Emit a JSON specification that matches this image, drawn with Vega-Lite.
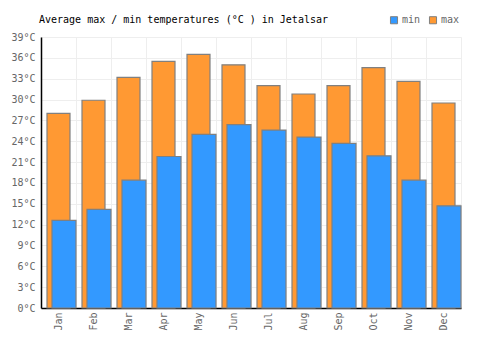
{
  "$schema": "https://vega.github.io/schema/vega-lite/v6.json",
  "autosize": "none",
  "width": 420,
  "height": 271,
  "padding": {"left": 41, "top": 37, "right": 39, "bottom": 42},
  "background": "white",
  "title": {
    "text": "Average max / min temperatures (°C ) in Jetalsar",
    "anchor": "start",
    "frame": "group",
    "font": "DejaVu Sans Mono",
    "fontSize": 10,
    "fontWeight": "normal",
    "color": "#000000",
    "dx": -2,
    "offset": -10
  },
  "config": {
    "view": {"stroke": "#eeeeee"},
    "axis": {"labelFont": "DejaVu Sans Mono", "labelFontSize": 10, "labelColor": "#666666"},
    "legend": {"labelFont": "DejaVu Sans Mono", "labelFontSize": 10, "labelColor": "#666666"}
  },
  "data": {
    "values": [
      {"month": "Jan", "max": 28.0, "min": 12.6},
      {"month": "Feb", "max": 29.9, "min": 14.2},
      {"month": "Mar", "max": 33.2, "min": 18.4},
      {"month": "Apr", "max": 35.5, "min": 21.8},
      {"month": "May", "max": 36.5, "min": 25.0},
      {"month": "Jun", "max": 35.0, "min": 26.4},
      {"month": "Jul", "max": 32.0, "min": 25.6},
      {"month": "Aug", "max": 30.8, "min": 24.6},
      {"month": "Sep", "max": 32.0, "min": 23.7},
      {"month": "Oct", "max": 34.6, "min": 21.9},
      {"month": "Nov", "max": 32.6, "min": 18.4},
      {"month": "Dec", "max": 29.5, "min": 14.7}
    ]
  },
  "encoding": {
    "x": {
      "field": "month",
      "type": "nominal",
      "sort": null,
      "scale": {"paddingInner": 0, "paddingOuter": 0},
      "axis": {
        "title": null,
        "bandPosition": 0,
        "labelAngle": -90,
        "labelAlign": "right",
        "labelBaseline": "middle",
        "labelPadding": 4,
        "labelOverlap": false,
        "ticks": false,
        "grid": true,
        "gridColor": "#eeeeee",
        "domainColor": "#000000",
        "domainWidth": 1.5
      }
    }
  },
  "layer": [
    {
      "mark": {"type": "bar", "width": 23, "stroke": "#808080", "strokeWidth": 1.2},
      "encoding": {
        "y": {
          "field": "max",
          "type": "quantitative",
          "scale": {"domain": [0, 39], "nice": false},
          "axis": {
            "title": null,
            "values": [0, 3, 6, 9, 12, 15, 18, 21, 24, 27, 30, 33, 36, 39],
            "labelExpr": "datum.value + '°C'",
            "labelOverlap": false,
            "ticks": false,
            "labelPadding": 6,
            "gridColor": "#eeeeee",
            "domainColor": "#000000",
            "domainWidth": 1.5
          }
        },
        "color": {
          "datum": "max",
          "scale": {"domain": ["min", "max"], "range": ["#3399ff", "#ff9933"]},
          "legend": {
            "title": null,
            "orient": "none",
            "legendX": 348,
            "legendY": -22,
            "direction": "horizontal",
            "symbolType": "square",
            "symbolSize": 50,
            "symbolStrokeColor": "#808080",
            "symbolStrokeWidth": 1,
            "symbolOpacity": 1,
            "labelOffset": 3,
            "columnPadding": 6
          }
        }
      }
    },
    {
      "mark": {"type": "bar", "width": 24, "xOffset": 5.5, "stroke": "#808080", "strokeWidth": 1.2},
      "encoding": {
        "y": {
          "field": "min",
          "type": "quantitative",
          "axis": {
            "title": null,
            "values": [0, 3, 6, 9, 12, 15, 18, 21, 24, 27, 30, 33, 36, 39],
            "labelExpr": "datum.value + '°C'",
            "labelOverlap": false,
            "ticks": false,
            "labelPadding": 6,
            "gridColor": "#eeeeee",
            "domainColor": "#000000",
            "domainWidth": 1.5
          }
        },
        "color": {"datum": "min"}
      }
    }
  ]
}
